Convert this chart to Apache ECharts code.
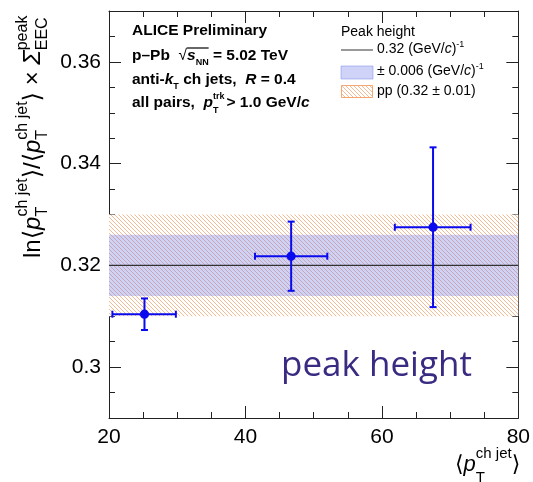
<!DOCTYPE html>
<html><head><meta charset="utf-8">
<script src="https://cdn.jsdelivr.net/npm/echarts@6/dist/echarts.min.js"></script>
<style>html,body{margin:0;padding:0;background:#fff}#c{width:533px;height:482px}</style>
</head><body><div id="c"></div>
<script>
// ---- data ----
const xCenters=[25.2,46.7,67.5];
const yValues=[0.3104,0.3218,0.3275];
const xLow=[20.5,41.4,61.9];
const xHigh=[29.8,52.0,73.0];
const yLow=[0.3073,0.3150,0.3118];
const yHigh=[0.3135,0.3286,0.3432];
const peakValue=0.32;
const peakUnc=0.006;
const ppValue=0.32;
const ppUnc=0.01;
const xRange=[20,80];
const yRange=[0.29,0.37];
const yTickLabels=[0.30,0.32,0.34,0.36];

// ---- helpers ----
const FAM='"Liberation Sans", Arial, Helvetica, "DejaVu Sans", sans-serif';
const mctx=document.createElement('canvas').getContext('2d');
function fnt(s,b,i){return (i?'italic ':'')+(b?'bold ':'')+s+'px '+FAM;}
function tw(t,s,b,i){mctx.font=fnt(s,b,i);return mctx.measureText(t).width;}
function T(x,dy,t,s,b,i,col){
  return {type:'text',x:x,y:dy-0.32*s,silent:true,
    style:{text:t,font:fnt(s,b,i),fill:col,textAlign:'left',textVerticalAlign:'middle',align:'left',verticalAlign:'middle'}};
}
function mk(x0,y0,pieces,opt){
  opt=opt||{};const ch=[];let x=0;const col=opt.color||'#000';let ovX=null;
  pieces.forEach(p=>{
    const b=p.b!==undefined?p.b:!!opt.b;
    if(p.ovStart){ovX=x;return;}
    if(p.ovEnd){ch.push({type:'line',silent:true,shape:{x1:ovX,y1:p.y,x2:x,y2:p.y},style:{stroke:col,lineWidth:1.2}});return;}
    if(p.sup!==undefined||p.sub!==undefined){
      let w=0;
      if(p.sup){ch.push(T(x,p.supDy,p.sup,p.s,b,p.i,col));w=Math.max(w,tw(p.sup,p.s,b,p.i));}
      if(p.sub){ch.push(T(x,p.subDy,p.sub,p.s,b,p.i,col));w=Math.max(w,tw(p.sub,p.s,b,p.i));}
      x+=w+(p.gap||0);
    } else {
      ch.push(T(x,p.dy||0,p.t,p.s,b,p.i,col));x+=tw(p.t,p.s,b,p.i)+(p.gap||0);
    }
  });
  return {type:'group',x:x0,y:y0,rotation:opt.rot||0,children:ch};
}
function hatch(){
  const c=document.createElement('canvas');c.width=8;c.height=8;
  const g=c.getContext('2d');g.fillStyle='#fff';g.fillRect(0,0,8,8);
  g.strokeStyle='#f6bb92';g.lineWidth=1.0;
  for(let k=-3;k<=3;k++){g.beginPath();g.moveTo(k*4-1,-1);g.lineTo(k*4+9,9);g.stroke();}
  return c;
}
const hatchImg=hatch();
const blueFill='rgba(110,120,235,0.33)';

// ---- chart ----
const chart=echarts.init(document.getElementById('c'),null,{renderer:'canvas'});
const bandData=[[ppValue-ppUnc,ppValue+ppUnc,0],[peakValue-peakUnc,peakValue+peakUnc,1]];
const errData=xCenters.map((x,i)=>[x,yValues[i],xLow[i],xHigh[i],yLow[i],yHigh[i]]);
const blue='#0a0aee';
const axisCol='#222';

const option={
  animation:false,
  grid:{left:109,right:13,top:11,bottom:64},
  xAxis:[
    {type:'value',position:'bottom',min:xRange[0],max:xRange[1],interval:20,
      axisLine:{show:true,lineStyle:{color:axisCol,width:1}},
      axisTick:{show:true,inside:true,length:12,lineStyle:{color:axisCol}},
      minorTick:{show:true,splitNumber:4,length:6,lineStyle:{color:axisCol}},
      axisLabel:{fontSize:21,color:'#000',margin:9,fontFamily:FAM},
      splitLine:{show:false}},
    {type:'value',position:'top',min:xRange[0],max:xRange[1],interval:20,
      axisLine:{show:true,lineStyle:{color:axisCol,width:1}},
      axisTick:{show:true,inside:true,length:12,lineStyle:{color:axisCol}},
      minorTick:{show:true,splitNumber:4,length:6,lineStyle:{color:axisCol}},
      axisLabel:{show:false},splitLine:{show:false}}
  ],
  yAxis:[
    {type:'value',position:'left',min:yRange[0],max:yRange[1],
      axisLine:{show:true,lineStyle:{color:axisCol,width:1}},
      axisTick:{show:true,inside:true,length:12,customValues:yTickLabels,lineStyle:{color:axisCol}},
      axisLabel:{fontSize:21,color:'#000',margin:8,fontFamily:FAM,customValues:yTickLabels,
        formatter:v=>String(Math.round(v*100)/100)},
      splitLine:{show:false}},
    {type:'value',position:'left',min:yRange[0],max:yRange[1],interval:0.005,
      axisLine:{show:false},
      axisTick:{show:true,inside:true,length:6,lineStyle:{color:axisCol}},
      axisLabel:{show:false},splitLine:{show:false}},
    {type:'value',position:'right',min:yRange[0],max:yRange[1],
      axisLine:{show:true,lineStyle:{color:axisCol,width:1}},
      axisTick:{show:true,inside:true,length:12,customValues:yTickLabels,lineStyle:{color:axisCol}},
      axisLabel:{show:false},splitLine:{show:false}},
    {type:'value',position:'right',min:yRange[0],max:yRange[1],interval:0.005,
      axisLine:{show:false},
      axisTick:{show:true,inside:true,length:6,lineStyle:{color:axisCol}},
      axisLabel:{show:false},splitLine:{show:false}}
  ],
  series:[
    {type:'custom',xAxisIndex:0,yAxisIndex:0,data:bandData,z:1,clip:true,
      renderItem:(params,api)=>{
        const p1=api.coord([xRange[0],api.value(1)]);
        const p2=api.coord([xRange[1],api.value(0)]);
        const isBlue=api.value(2)===1;
        return {type:'rect',shape:{x:p1[0],y:p1[1],width:p2[0]-p1[0],height:p2[1]-p1[1]},
          style:{fill:isBlue?blueFill:{image:hatchImg,repeat:'repeat'}}};
      }},
    {type:'line',xAxisIndex:0,yAxisIndex:0,data:[[xRange[0],peakValue],[xRange[1],peakValue]],
      symbol:'none',z:2,lineStyle:{color:'#333',width:1.2}},
    {type:'custom',xAxisIndex:0,yAxisIndex:0,data:errData,z:3,
      renderItem:(params,api)=>{
        const c=api.coord([api.value(0),api.value(1)]);
        const xl=api.coord([api.value(2),api.value(1)]);
        const xh=api.coord([api.value(3),api.value(1)]);
        const yl=api.coord([api.value(0),api.value(4)]);
        const yh=api.coord([api.value(0),api.value(5)]);
        const st={stroke:blue,lineWidth:2};
        const cap=3.5;
        return {type:'group',children:[
          {type:'line',shape:{x1:xl[0],y1:c[1],x2:xh[0],y2:c[1]},style:st},
          {type:'line',shape:{x1:c[0],y1:yl[1],x2:c[0],y2:yh[1]},style:st},
          {type:'line',shape:{x1:xl[0],y1:c[1]-cap,x2:xl[0],y2:c[1]+cap},style:st},
          {type:'line',shape:{x1:xh[0],y1:c[1]-cap,x2:xh[0],y2:c[1]+cap},style:st},
          {type:'line',shape:{x1:c[0]-cap,y1:yl[1],x2:c[0]+cap,y2:yl[1]},style:st},
          {type:'line',shape:{x1:c[0]-cap,y1:yh[1],x2:c[0]+cap,y2:yh[1]},style:st},
          {type:'circle',shape:{cx:c[0],cy:c[1],r:4.6},style:{fill:blue}}
        ]};
      }}
  ],
  graphic:[]
};

const S=15.5, s2=9;
const G=[];
// annotations
G.push(mk(132,36,[{t:'ALICE Preliminary',s:S}],{b:true}));
G.push(mk(132,61,[{t:'p\u2013Pb  ',s:S},{t:'\u221A',s:S,b:false},{ovStart:true},{t:'s',s:S,i:true},{t:'NN',s:s2,dy:4},{ovEnd:true,y:-13},{t:' = 5.02 TeV',s:S}],{b:true}));
G.push(mk(132,85,[{t:'anti-',s:S},{t:'k',s:S,i:true},{t:'T',s:s2,dy:4},{t:' ch jets,  ',s:S},{t:'R',s:S,i:true},{t:' = 0.4',s:S}],{b:true}));
G.push(mk(132,108,[{t:'all pairs,  ',s:S},{t:'p',s:S,i:true},{sup:'trk',sub:'T',s:s2,supDy:-9,subDy:5,gap:2},{t:'> 1.0 GeV/',s:S},{t:'c',s:S,i:true}],{b:true}));
// legend
const L=14;
G.push(mk(341,37,[{t:'Peak height',s:L}]));
G.push(mk(377,54,[{t:'0.32 (GeV/',s:L},{t:'c',s:L,i:true},{t:')',s:L},{t:'-1',s:9,dy:-7}]));
G.push(mk(377,76,[{t:'\u00B1 0.006 (GeV/',s:L},{t:'c',s:L,i:true},{t:')',s:L},{t:'-1',s:9,dy:-7}]));
G.push(mk(377,96,[{t:'pp (0.32 \u00B1 0.01)',s:L}]));
G.push({type:'line',shape:{x1:341,y1:50,x2:373,y2:50},style:{stroke:'#555',lineWidth:1.2}});
G.push({type:'rect',shape:{x:341,y:66,width:32,height:13},style:{fill:blueFill,stroke:'rgba(120,135,235,0.5)',lineWidth:1}});
G.push({type:'rect',shape:{x:341.5,y:85.5,width:31,height:12},style:{fill:{image:hatchImg,repeat:'repeat'},stroke:'#f3a874',lineWidth:1}});
// big label
G.push({type:'text',left:281,top:349,silent:true,style:{text:'peak height',font:'35px "Open Sans", "Noto Sans", sans-serif',fill:'#3b2a82'}});
// y title
const M=24, m=16;
G.push(mk(41,258,[
  {t:'ln\u27E8',s:M},{t:'p',s:M,i:true},{sup:'ch jet',sub:'T',s:m,supDy:-13,subDy:7},
  {t:'\u27E9/\u27E8',s:M},{t:'p',s:M,i:true},{sup:'ch jet',sub:'T',s:m,supDy:-13,subDy:7},
  {t:'\u27E9 \u00D7 ',s:M},{t:'\u03A3',s:M,i:true},{sup:'peak',sub:'EEC',s:m,supDy:-13,subDy:7}
],{rot:Math.PI/2}));
// x title
G.push(mk(455,472,[{t:'\u27E8',s:22},{t:'p',s:22,i:true},{sup:'ch jet',sub:'T',s:15,supDy:-13,subDy:11},{t:'\u27E9',s:22}]));
option.graphic=G;
chart.setOption(option);
</script></body></html>
